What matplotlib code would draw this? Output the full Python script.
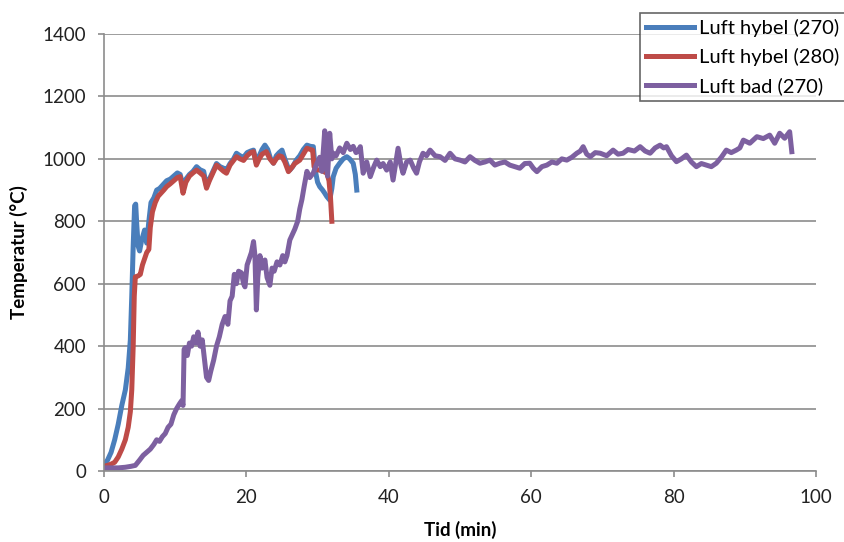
import matplotlib
matplotlib.use("Agg")
import matplotlib.pyplot as plt

plt.rcParams['font.family'] = ['Lato', 'DejaVu Sans']

# Luft hybel (270)
t_blue = [0, 0.5, 1.0, 1.5, 2.0, 2.5, 3.0, 3.4, 3.7, 3.9, 4.1, 4.3, 4.45, 4.6, 4.8, 5.0, 5.3, 5.7,
          6.0, 6.3, 6.6, 7.0, 7.4, 7.8, 8.2, 8.8, 9.3, 9.8, 10.3, 10.7, 11.1, 11.5, 12.0, 12.5,
          13.0, 13.5, 14.0, 14.4, 14.8, 15.3, 15.8, 16.3, 16.8, 17.2, 17.7, 18.2, 18.6, 19.1,
          19.6, 20.1, 20.6, 21.0, 21.4, 21.8, 22.2, 22.6, 23.0, 23.4, 23.8, 24.2, 24.6, 25.0,
          25.4, 25.8, 26.1, 26.5, 27.0, 27.5, 28.0, 28.5, 29.0, 29.4, 29.7, 30.0, 30.3, 30.7,
          31.0, 31.3, 31.7, 32.0, 32.2, 32.6, 33.1, 33.6, 34.1, 34.5, 35.0, 35.3, 35.5]
T_blue = [20, 35, 60, 100, 150, 210, 260, 330, 420, 560, 720, 850, 855, 790, 720, 705, 740, 772,
          730, 800, 860, 875, 900, 905, 915, 930, 935, 945, 955, 950, 912, 935, 950, 960,
          975, 965, 960, 912, 935, 960, 985, 975, 970, 964, 985, 1000, 1018, 1010,
          1005, 1020, 1025, 1028, 986, 1010, 1030, 1044, 1030, 1000, 986, 1010, 1020, 1028,
          1000, 975, 964, 975, 996, 1010, 1030, 1044, 1040, 1039, 960, 925, 911, 900,
          890, 879, 868, 905, 943, 970, 986, 1000, 1007, 1000, 986, 950, 900]

# Luft hybel (280)
t_red = [0, 0.5, 1.0, 1.5, 2.0, 2.5, 3.0, 3.4, 3.7, 3.9, 4.1, 4.25, 4.4, 4.8, 5.1, 5.4, 5.7,
         6.0, 6.3, 6.5, 6.8, 7.2, 7.6, 8.0, 8.4, 8.8, 9.3, 9.8, 10.3, 10.7, 11.1, 11.5, 12.0,
         12.5, 13.0, 13.5, 14.0, 14.4, 14.8, 15.3, 15.8, 16.3, 16.8, 17.2, 17.7, 18.2, 18.6,
         19.1, 19.6, 20.1, 20.6, 21.0, 21.4, 21.8, 22.2, 22.8, 23.3, 23.8, 24.2, 24.6, 25.0,
         25.4, 25.9, 26.3, 26.8, 27.5, 28.0, 28.5, 29.0, 29.3, 29.5, 29.9, 30.3, 30.8, 31.3,
         31.6, 31.8, 32.0]
T_red = [15, 18, 22, 28, 45, 70, 100, 140, 190, 260, 400, 560, 622, 625, 630, 660, 680,
         700, 710, 780, 830, 860, 880, 890, 900, 911, 920, 930, 940, 943, 890, 925, 945,
         955, 964, 955, 945, 906, 930, 955, 980, 970, 960, 954, 980, 995, 1007,
         1000, 995, 1010, 1020, 1023, 980, 1000, 1015, 1023, 1000, 986, 1000, 1010, 1007,
         990, 959, 970, 985, 996, 1015, 1034, 1030, 1028, 975, 965, 964, 960, 954,
         930, 880, 800]

# Luft bad (270)
t_purple = [0, 1, 2, 3, 3.8, 4.4, 5.0, 5.5, 6.0, 6.5, 7.0, 7.4, 7.8, 8.2, 8.6, 9.0, 9.4, 9.8,
            10.2, 10.6, 10.9, 11.1, 11.25, 11.4, 11.7, 12.0, 12.3, 12.6, 12.9, 13.2, 13.5,
            13.8, 14.1, 14.4, 14.7, 15.0, 15.4, 15.8, 16.2, 16.6, 17.0, 17.4, 17.7, 18.0,
            18.3, 18.6, 18.9, 19.3, 19.6, 19.8, 20.1, 20.4, 20.7, 21.0, 21.2, 21.4, 21.6,
            21.9, 22.2, 22.6, 22.9, 23.3, 23.6, 23.9, 24.3, 24.7, 25.1, 25.4, 25.7, 26.1,
            26.5, 26.8, 27.2, 27.5, 27.8, 28.1, 28.5, 28.9, 29.4, 29.8, 30.3, 30.6, 31.0,
            31.2, 31.4, 31.7, 32.0, 32.2, 32.6, 33.1, 33.6, 34.1, 34.6, 35.0, 35.4, 35.7,
            36.0, 36.4, 36.9, 37.4, 37.9, 38.3, 38.8, 39.2, 39.7, 40.2, 40.6, 41.0, 41.3,
            41.7, 42.0, 42.5, 43.0, 43.5, 43.9, 44.3, 44.8, 45.3, 45.8, 46.5, 47.2, 47.9,
            48.6, 49.3, 50.0, 50.7, 51.4, 52.1, 52.8, 53.5, 54.2, 54.9, 55.6, 56.3, 57.0,
            57.7, 58.4, 59.1, 59.8, 60.3, 60.8, 61.5, 62.2, 62.9, 63.6, 64.3, 65.0, 65.7,
            66.4, 66.9, 67.3, 67.8, 68.3, 69.0, 69.7, 70.6, 71.5, 72.2, 72.9, 73.6, 74.5,
            75.3, 76.0, 76.7, 77.4, 78.1, 78.6, 79.0, 79.7, 80.4, 81.1, 81.8, 82.5, 83.2,
            83.9, 84.6, 85.3, 86.0, 86.7, 87.4, 88.1, 88.8, 89.3, 89.8, 90.7, 91.7, 92.6,
            93.5, 94.2, 94.9, 95.6, 96.3, 96.6]
T_purple = [10, 10, 10, 12, 15, 18, 35, 50, 60, 70, 85, 100, 95, 110, 120, 140, 150, 180,
            200, 215, 225, 210, 390, 395, 370, 410, 400, 430, 410, 445, 400,
            420, 360, 300, 290, 320, 355, 400, 430, 470, 495, 470, 545, 560,
            630, 600, 640, 635, 600, 590, 660, 680, 700, 735, 690, 516, 620,
            690, 650, 676, 620, 595, 650, 640, 670, 660, 690, 670, 690, 740,
            760, 775, 800, 840, 870, 910, 960, 940, 955, 980, 1005, 960, 1090,
            1000, 945, 1082, 1000, 1018, 1010, 1035, 1020, 1050, 1030, 1040, 1020, 1025,
            1039, 954, 990, 943, 975, 996, 975, 985, 964, 990, 932, 990, 1034,
            980, 954, 990, 996, 970, 954, 990, 1018, 1010, 1028, 1010, 1007, 995,
            1018, 1000, 996, 990, 1007, 995, 986, 990, 996, 980, 986, 990, 980,
            975, 970, 985, 986, 970, 959, 975, 980, 990, 986, 1000, 996, 1005,
            1018, 1025, 1039, 1015, 1007, 1020, 1018, 1010, 1028, 1015, 1018, 1030, 1025,
            1039, 1025, 1018, 1035, 1044, 1035, 1039, 1010, 991, 1000, 1012, 990, 975,
            985, 980, 975, 986, 1005, 1028, 1020, 1028, 1035, 1060, 1050, 1071, 1065,
            1076, 1050, 1082, 1066, 1087, 1023]

labels = ["Luft hybel (270)", "Luft hybel (280)", "Luft bad (270)"]
colors = ["#4A7EBB", "#BE4B48", "#7D60A0"]

fig = plt.figure(figsize=(8.44, 5.42), dpi=100)
ax = fig.add_axes([104/844, 1-471/542, (816-104)/844, (471-34)/542])

ax.plot(t_blue, T_blue, color=colors[0], lw=3.6, label=labels[0], solid_joinstyle='round')
ax.plot(t_red, T_red, color=colors[1], lw=3.6, label=labels[1], solid_joinstyle='round')
ax.plot(t_purple, T_purple, color=colors[2], lw=3.6, label=labels[2], solid_joinstyle='round')

ax.set_xlim(0, 100)
ax.set_ylim(0, 1400)
ax.set_xticks(range(0, 101, 20))
ax.set_yticks(range(0, 1401, 200))
ax.grid(axis='y', color='#8c8c8c', lw=1.2)
ax.set_axisbelow(True)
for s in ['top', 'right']:
    ax.spines[s].set_visible(False)
for s in ['left', 'bottom']:
    ax.spines[s].set_color('#8c8c8c')
    ax.spines[s].set_linewidth(1.2)
ax.tick_params(colors='#8c8c8c', labelcolor='#222222', labelsize=13.5, length=4, width=1.2, pad=9)

ax.set_xlabel("Tid (min)", fontsize=13.5, fontweight='bold', labelpad=11)
ax.set_ylabel("Temperatur (°C)", fontsize=13.5, fontweight='bold', labelpad=10)

leg = fig.legend(loc='upper left', bbox_to_anchor=(640/844, 1-13/542), borderaxespad=0,
                 fontsize=14.5, frameon=True, fancybox=False, handlelength=2.4,
                 handletextpad=0.25, labelspacing=0.55, borderpad=0.3)
leg.get_frame().set_edgecolor('#404040')
leg.get_frame().set_linewidth(1.2)

fig.savefig("out.png", dpi=100)
